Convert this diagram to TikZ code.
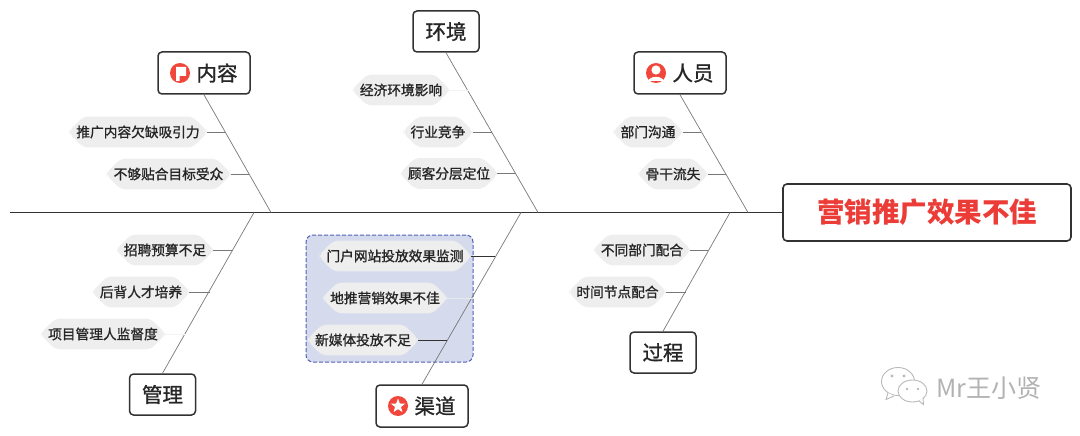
\documentclass[tikz,border=0pt]{standalone}
\usepackage{fontspec}
\setmainfont{Noto Sans CJK SC}
\newfontfamily\leaffont[FakeBold=1.2]{Noto Sans CJK SC}
\newfontfamily\markfont{Noto Sans CJK SC}
\usetikzlibrary{positioning, calc, shapes.misc, shapes.geometric}
\definecolor{linegray}{RGB}{120,120,120}
\definecolor{boxdark}{RGB}{50,50,50}
\definecolor{leafgray}{RGB}{238,238,238}
\definecolor{iconred}{RGB}{240,70,60}
\definecolor{groupblue}{RGB}{213,218,237}
\definecolor{groupline}{RGB}{80,95,185}
\tikzset{
  topic/.style={draw=boxdark, line width=1.5pt, rounded corners=4pt, fill=white, inner sep=0pt, font=\fontsize{20.5}{20}\selectfont\leaffont, text=black!85},
  leaf/.style={chamfered rectangle, chamfered rectangle xsep=6pt, chamfered rectangle ysep=8pt, rounded corners=5pt, fill=leafgray, inner xsep=1pt, inner ysep=1pt, minimum height=30pt, text=black!85, font=\fontsize{13.7}{14}\selectfont\leaffont},
  rib/.style={draw=linegray, line width=0.7pt},
  twig/.style={draw=linegray, line width=0.9pt},
  faint/.style={draw=leafgray!70!white, line width=0.7pt},
  badge/.style={circle, fill=iconred, minimum size=20pt, inner sep=0pt},
  wechat/.style={draw=gray!55, line width=0.9pt, fill=white}
}
\begin{document}
\begin{tikzpicture}[x=1pt, y=-1pt]
  \useasboundingbox (0,0) rectangle (1080,436);
  %gruppo evidenziato
  \node (groupbox) at (389.5,298.5)[draw=groupline, dash pattern=on 4pt off 2pt, line width=1pt, fill=groupblue, rounded corners=7pt, minimum width=167pt, minimum height=127pt, inner sep=0pt]{};
  %radice e spina
  \node (root) at (927,212.5)[draw=boxdark, line width=1.6pt, rounded corners=4pt, fill=white, minimum width=288pt, minimum height=57pt, inner sep=0pt, text={rgb,255:red,235;green,60;blue,55}, font=\bfseries\fontsize{27.5}{28}\selectfont]{营销推广效果不佳};
  \coordinate (spinestart) at (10,212.5);
  \draw[draw=boxdark, line width=1.3pt] (spinestart) -- (root);
  %categorie
  \node (content) at (204,73)[topic, minimum width=92pt, minimum height=42pt]{\hspace{26pt}内容};
  \node (env) at (446,31.5)[topic, minimum width=66pt, minimum height=41pt]{环境};
  \node (staff) at (680,73)[topic, minimum width=92pt, minimum height=42pt]{\hspace{26pt}人员};
  \node (manage) at (162.5,394.5)[topic, minimum width=66pt, minimum height=41pt]{管理};
  \node (channel) at (422,406)[topic, minimum width=92pt, minimum height=42pt]{\hspace{26pt}渠道};
  \node (process) at (663,352.5)[topic, minimum width=66pt, minimum height=41pt]{过程};
  %icone
  \node (flagicon) at (180,73)[badge]{};
  \fill[white] (176,67) -- (186,67) -- (186,76) -- (179.5,76) -- (179.5,81) -- (176,81) -- cycle;
  \node (personicon) at (656,73)[badge]{};
  \fill[white] (656,70) circle (4.6pt);
  \fill[white] (648.5,81) .. controls (649,75.5) and (663,75.5) .. (663.5,81) -- cycle;
  \node (staricon) at (398,406)[badge]{};
  \node (starshape) at (398,406)[star, star points=5, star point ratio=2.4, fill=white, minimum size=15pt, inner sep=0pt]{};
  %punti sulla spina
  \coordinate (jcontent) at (271,212.5);
  \coordinate (jenv) at (538,212.5);
  \coordinate (jstaff) at (748,212.5);
  \coordinate (jmanage) at (254,212.5);
  \coordinate (jchannel) at (521,212.5);
  \coordinate (jprocess) at (730,212.5);
  \draw[rib] (content.south) -- (jcontent);
  \draw[rib] (env.south) -- (jenv);
  \draw[rib] (staff.south) -- (jstaff);
  \draw[rib] (manage.north) -- (jmanage);
  \draw[rib] (channel.north) -- (jchannel);
  \draw[rib] (process.north) -- (jprocess);
  %foglie sopra
  \node (c1) at (138,132)[leaf]{推广内容欠缺吸引力};
  \node (c2) at (168.5,174)[leaf]{不够贴合目标受众};
  \node (e1) at (401,90)[leaf]{经济环境影响};
  \node (e2) at (438,132)[leaf]{行业竞争};
  \node (e3) at (449,173.5)[leaf]{顾客分层定位};
  \node (s1) at (648,132)[leaf]{部门沟通};
  \node (s2) at (673,174)[leaf]{骨干流失};
  %foglie sotto
  \node (m1) at (165,250)[leaf]{招聘预算不足};
  \node (m2) at (141,292)[leaf]{后背人才培养};
  \node (m3) at (103,334)[leaf]{项目管理人监督度};
  \node (h1) at (395,256)[leaf]{门户网站投放效果监测};
  \node (h2) at (385,298)[leaf]{地推营销效果不佳};
  \node (h3) at (363,340)[leaf]{新媒体投放不足};
  \node (p1) at (642,250)[leaf]{不同部门配合};
  \node (p2) at (617.5,292)[leaf]{时间节点配合};
  %rametti
  \coordinate (tc1) at (226,132);
  \coordinate (tc2) at (249,174);
  \coordinate (te1) at (469,90);
  \coordinate (te2) at (492,132);
  \coordinate (te3) at (516,173.5);
  \coordinate (ts1) at (701,132);
  \coordinate (ts2) at (726,174);
  \coordinate (tm1) at (233,250);
  \coordinate (tm2) at (210,292);
  \coordinate (tm3) at (186,334);
  \coordinate (th1) at (495,256);
  \coordinate (th2) at (473,298);
  \coordinate (th3) at (447,340);
  \coordinate (tp1) at (708,250);
  \coordinate (tp2) at (686,292);
  \foreach \leafname/\tipname in {c1/tc1, c2/tc2, e2/te2, e3/te3, s1/ts1, s2/ts2, m1/tm1, m2/tm2, p1/tp1, p2/tp2}
    \draw[twig] (\leafname.east) -- (\tipname);
  \draw[faint] (e1.east) -- (te1);
  \draw[faint] (m3.east) -- (tm3);
  \draw[draw=boxdark, line width=0.9pt] (h1.east) -- (th1);
  \draw[draw=boxdark, line width=0.9pt] (h3.east) -- (th3);
  \draw[draw=leafgray!70!groupblue, line width=0.7pt] (h2.east) -- (th2);
  %filigrana
  \draw[wechat] (898,381.5) ellipse (16.5pt and 14pt);
  \draw[wechat] (888,393) -- (886,399.5) -- (894,396);
  \fill[gray!55] (892,376) circle (1.6pt) (904,376) circle (1.6pt);
  \draw[wechat] (912.5,391) ellipse (14.5pt and 11pt);
  \draw[wechat] (919,401) -- (923.5,404.5) -- (923,397.5);
  \fill[gray!55] (907,389) circle (1.4pt) (918,389) circle (1.4pt);
  \node (wmark) at (989,388)[text=gray!60, font=\fontsize{25}{25}\selectfont\markfont]{Mr王小贤};
\end{tikzpicture}
\end{document}
